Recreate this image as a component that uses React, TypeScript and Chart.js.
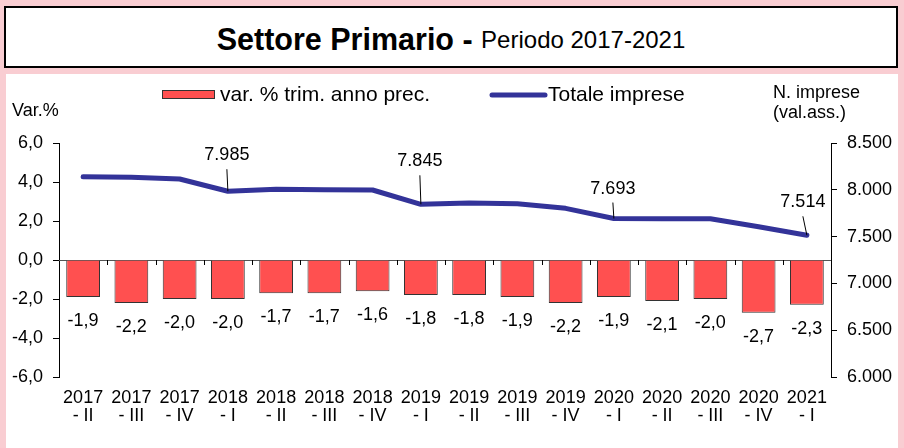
import React, { useEffect, useRef } from "react";
import { Chart, registerables } from "chart.js";

Chart.register(...registerables);

const categories: string[][] = [
  ["2017", "- II"], ["2017", "- III"], ["2017", "- IV"],
  ["2018", "- I"], ["2018", "- II"], ["2018", "- III"], ["2018", "- IV"],
  ["2019", "- I"], ["2019", "- II"], ["2019", "- III"], ["2019", "- IV"],
  ["2020", "- I"], ["2020", "- II"], ["2020", "- III"], ["2020", "- IV"],
  ["2021", "- I"],
];
const varPct: number[] = [-1.9, -2.2, -2.0, -2.0, -1.7, -1.7, -1.6, -1.8, -1.8, -1.9, -2.2, -1.9, -2.1, -2.0, -2.7, -2.3];
const totaleImprese: number[] = [8140, 8133, 8115, 7985, 8005, 8001, 7998, 7845, 7858, 7850, 7802, 7693, 7692, 7690, 7605, 7514];
const labelledPoints: number[] = [3, 7, 11, 15];

const legendBar = "var. % trim. anno prec.";
const legendLine = "Totale imprese";
const leftTitle = "Var.%";
const rightTitle = ["N. imprese", "(val.ass.)"];

// layout of the point labels (offsets in px from the point)
const pointLabelOffsets: [number, number][] = [[-1, -36], [-1, -43], [-1, -30], [-4, -33]];

const FONT = '"Liberation Sans", Arial, sans-serif';
const BAR_COLOR = "#ff5050";
const LINE_COLOR = "#333399";

const fmtPct = (v: number) => v.toFixed(1).replace(".", ",");
const fmtThousands = (v: number) => {
  const s = Math.round(v).toString();
  return s.replace(/\B(?=(\d{3})+(?!\d))/g, ".");
};

const decorPlugin = {
  id: "decor",
  beforeDatasetsDraw(chart: any) {
    const ctx = chart.ctx;
    const y = chart.scales.y;
    const area = chart.chartArea;
    const y0 = y.getPixelForValue(0);
    ctx.save();
    ctx.strokeStyle = "#555";
    ctx.lineWidth = 1;
    ctx.beginPath();
    ctx.moveTo(area.left, Math.round(y0) + 0.5);
    ctx.lineTo(area.right, Math.round(y0) + 0.5);
    ctx.stroke();
    // small tick marks at category boundaries
    const n = categories.length;
    const w = (area.right - area.left) / n;
    ctx.strokeStyle = "#000";
    for (let i = 1; i < n; i++) {
      const x = Math.round(area.left + i * w) + 0.5;
      ctx.beginPath();
      ctx.moveTo(x, Math.round(y0));
      ctx.lineTo(x, Math.round(y0) + 5);
      ctx.stroke();
    }
    ctx.restore();
  },
  afterDatasetsDraw(chart: any) {
    const ctx = chart.ctx;
    ctx.save();
    ctx.fillStyle = "#000";
    ctx.font = `18px ${FONT}`;
    ctx.textAlign = "center";
    ctx.textBaseline = "middle";
    // bar labels
    const barMeta = chart.getDatasetMeta(1);
    barMeta.data.forEach((el: any, i: number) => {
      ctx.fillText(fmtPct(varPct[i]), el.x, el.y + 24);
    });
    // line labels with leader lines
    const lineMeta = chart.getDatasetMeta(0);
    labelledPoints.forEach((idx, k) => {
      const p = lineMeta.data[idx];
      const [dx, dy] = pointLabelOffsets[k];
      const lx = p.x + dx;
      const ly = p.y + dy;
      ctx.fillText(fmtThousands(totaleImprese[idx]), lx, ly);
      ctx.strokeStyle = "#000";
      ctx.lineWidth = 1;
      ctx.beginPath();
      ctx.moveTo(lx, ly + 14);
      ctx.lineTo(p.x, p.y);
      ctx.stroke();
    });
    ctx.restore();
  },
  afterDraw(chart: any) {
    const ctx = chart.ctx;
    ctx.save();
    ctx.fillStyle = "#000";
    ctx.textBaseline = "middle";
    ctx.textAlign = "left";
    // legend
    ctx.font = `21px ${FONT}`;
    ctx.fillStyle = BAR_COLOR;
    ctx.fillRect(156, 16, 53, 9);
    ctx.strokeStyle = "#333";
    ctx.lineWidth = 1;
    ctx.strokeRect(156.5, 16.5, 52, 8);
    ctx.fillStyle = "#000";
    ctx.fillText(legendBar, 214, 21);
    ctx.strokeStyle = LINE_COLOR;
    ctx.lineWidth = 5;
    ctx.lineCap = "round";
    ctx.beginPath();
    ctx.moveTo(486, 21);
    ctx.lineTo(539, 21);
    ctx.stroke();
    ctx.fillText(legendLine, 542, 21);
    // axis titles
    ctx.font = `18px ${FONT}`;
    ctx.fillText(leftTitle, 6, 37);
    ctx.fillText(rightTitle[0], 767, 19);
    ctx.fillText(rightTitle[1], 767, 39);
    ctx.restore();
  },
};

export default function App() {
  const canvasRef = useRef<HTMLCanvasElement | null>(null);

  useEffect(() => {
    if (!canvasRef.current) return;
    const tickFont = { size: 18, family: FONT, lineHeight: 1 };
    const chart = new Chart(canvasRef.current, {
      type: "bar",
      data: {
        labels: categories,
        datasets: [
          {
            type: "line",
            label: legendLine,
            data: totaleImprese,
            yAxisID: "y1",
            borderColor: LINE_COLOR,
            backgroundColor: LINE_COLOR,
            borderWidth: 5,
            pointRadius: 0,
            tension: 0,
            borderJoinStyle: "round",
            borderCapStyle: "round",
            order: 0,
          } as any,
          {
            type: "bar",
            label: legendBar,
            data: varPct,
            yAxisID: "y",
            backgroundColor: BAR_COLOR,
            borderColor: "#333",
            borderWidth: 1,
            categoryPercentage: 1,
            barPercentage: 0.7,
            order: 1,
          } as any,
        ],
      },
      options: {
        responsive: false,
        animation: false,
        layout: { padding: { top: 69, left: 0, right: 0, bottom: 0 } },
        plugins: { legend: { display: false }, tooltip: { enabled: false } },
        scales: {
          x: {
            grid: { display: false, drawTicks: false },
            border: { display: false },
            ticks: { font: tickFont, color: "#000", padding: 12, autoSkip: false, maxRotation: 0 },
            afterFit: (s: any) => { s.height = 71; },
          },
          y: {
            position: "left",
            min: -6,
            max: 6,
            ticks: { stepSize: 2, font: tickFont, color: "#000", padding: 10, callback: (v: any) => fmtPct(Number(v)) },
            grid: { drawOnChartArea: false, tickLength: 6, tickColor: "#000", color: "#000" },
            border: { display: true, color: "#000", width: 1 },
            afterFit: (s: any) => { s.width = 53; },
          },
          y1: {
            position: "right",
            min: 6000,
            max: 8500,
            ticks: { stepSize: 500, font: tickFont, color: "#000", padding: 10, callback: (v: any) => fmtThousands(Number(v)) },
            grid: { drawOnChartArea: false, tickLength: 6, tickColor: "#000", color: "#000" },
            border: { display: true, color: "#000", width: 1 },
            afterFit: (s: any) => { s.width = 67; },
          },
        },
      } as any,
      plugins: [decorPlugin],
    });
    return () => chart.destroy();
  }, []);

  return (
    <div style={{ position: "fixed", left: 0, top: 0, width: 904, height: 448, background: "#f9cdd2", overflow: "hidden" }}>
      <div
        style={{
          position: "absolute", left: 4, top: 6, width: 894, height: 62, boxSizing: "border-box",
          border: "2px solid #000", background: "#fff", display: "flex", alignItems: "center",
          justifyContent: "center", fontFamily: FONT, color: "#000", whiteSpace: "pre",
          paddingTop: 4,
        }}
      >
        <span style={{ fontWeight: "bold", fontSize: 30.5 }}>Settore Primario - </span>
        <span style={{ fontSize: 24, position: "relative", top: 1 }}>Periodo 2017-2021</span>
      </div>
      <div style={{ position: "absolute", left: 6, top: 74, width: 892, height: 374, background: "#fff" }}>
        <canvas ref={canvasRef} width={892} height={374} style={{ display: "block", width: 892, height: 374 }} />
      </div>
    </div>
  );
}
